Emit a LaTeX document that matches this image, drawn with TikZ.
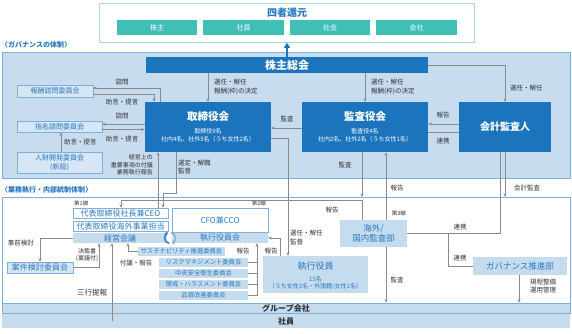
\documentclass[tikz,border=0pt]{standalone}
\usepackage{fontspec}
\setmainfont{Noto Sans CJK JP}
\usetikzlibrary{arrows.meta, positioning}

\definecolor{dkblue}{HTML}{1C75BC}
\definecolor{bgblue}{HTML}{C8DCEF}
\definecolor{bandblue}{HTML}{C5DCEF}
\definecolor{boxblue}{HTML}{D6E6F5}
\definecolor{lnblue}{HTML}{7FAEDA}
\definecolor{txblue}{HTML}{2B78BE}
\definecolor{tealc}{HTML}{3FBFB5}
\definecolor{tealln}{HTML}{A8DCD6}
\definecolor{lgray}{HTML}{8A8A8A}
\definecolor{txgray}{HTML}{333333}

\newcommand{\fsz}[1]{\fontsize{#1}{#1}\selectfont}

\begin{document}
\begin{tikzpicture}[x=1pt, y=-1pt,
    >={Stealth[length=3.5pt,width=3pt]},
    area/.style={draw=lnblue, line width=0.6pt, inner sep=0, anchor=north west},
    dkbox/.style={fill=dkblue, text=white, inner sep=0},
    wt/.style={text=white, inner sep=0, align=center},
    ltbox/.style={fill=boxblue, draw=lnblue, line width=0.5pt, text=txblue, inner sep=0, align=center},
    whbox/.style={fill=white, draw=lnblue, line width=0.5pt, text=txblue, inner sep=0},
    band/.style={fill=bandblue, text=txblue, inner sep=0, align=center},
    tealbox/.style={fill=tealc, text=white, inner sep=0, font=\fsz{7},
        minimum height=15pt},
    lbl/.style={text=txgray, inner sep=0, align=center,
        font=\fontsize{6.5}{8.5}\selectfont},
    arr/.style={draw=lgray, line width=0.6pt, ->},
    ln/.style={draw=lgray, line width=0.6pt}]

    \useasboundingbox (0,0) rectangle (572,334);

    % four stakeholders
    \node[draw=tealln, line width=0.8pt, fill=white, inner sep=0,
        minimum width=375pt, minimum height=39pt, anchor=north west] (yonsha) at (99,3) {};
    \node[text=txblue, font=\bfseries\fsz{10}, inner sep=0] (yonshaT) at (287,13) {四者還元};
    \node[tealbox, minimum width=80pt] (kabu) at (157,27.5) {株主};
    \node[tealbox, minimum width=81pt] (shaA) at (243.5,27.5) {社員};
    \node[tealbox, minimum width=80pt] (shakai) at (330,27.5) {社会};
    \node[tealbox, minimum width=81pt] (kaisha) at (416.5,27.5) {会社};

    % governance
    \node[area, fill=bgblue, minimum width=568pt, minimum height=126pt] (gov) at (2,52) {};
    \node[anchor=west, text=txblue, font=\bfseries\fsz{7}, inner sep=0] (govT) at (1,45) {〈ガバナンスの体制〉};

    \node[dkbox, minimum width=282pt, minimum height=16pt, font=\bfseries\fsz{11}] (sou) at (287,65) {株主総会};
    \draw[-{Triangle[length=5pt,width=6pt]}, dkblue, line width=1.6pt] (sou.north) -- (yonsha.south -| sou.north);

    \node[dkbox, minimum width=126pt, minimum height=50pt] (tori) at (208,127) {};
    \node[wt, font=\bfseries\fsz{10.5}] (toriA) at (208,117) {取締役会};
    \node[wt, font=\fontsize{6}{8}\selectfont] (toriB) at (208,135) {取締役9名\\社内4名、社外5名（うち女性2名）};

    \node[dkbox, minimum width=126pt, minimum height=50pt] (kansa) at (365,127) {};
    \node[wt, font=\bfseries\fsz{10.5}] (kansaA) at (365,117) {監査役会};
    \node[wt, font=\fontsize{6}{8}\selectfont] (kansaB) at (365,135) {監査役4名\\社内2名、社外2名（うち女性1名）};

    \node[dkbox, minimum width=92pt, minimum height=50pt, font=\bfseries\fsz{10}] (kaikei) at (505,127) {会計監査人};

    \node[ltbox, minimum width=76pt, minimum height=12pt, font=\fsz{7}] (hoshu) at (55,91) {報酬諮問委員会};
    \node[ltbox, minimum width=85pt, minimum height=11pt, font=\fsz{7}] (shimei) at (59.5,126.5) {指名諮問委員会};
    \node[ltbox, minimum width=85pt, minimum height=21pt, font=\fontsize{7}{8.5}\selectfont] (jinzai) at (59.5,162.5) {人財開発委員会\\(新設)};

    \draw[arr] (sou.south -| tori.north) -- (tori.north);
    \node[lbl, anchor=west, align=left] (l1) at (214,87) {選任・解任\\報酬(枠)の決定};
    \draw[arr] (sou.south -| kansa.north) -- (kansa.north);
    \node[lbl, anchor=west, align=left] (l2) at (371,87) {選任・解任\\報酬(枠)の決定};
    \draw[arr] (sou.east) -| (kaikei.north);
    \node[lbl, anchor=west] (l3) at (510,88) {選任・解任};

    \draw[arr] (tori.north -| 160,0) |- (hoshu.east |- 0,88);
    \node[lbl] (l4) at (122,82) {諮問};
    \draw[arr] (hoshu.east |- 0,94) -| (tori.north -| 154,0);
    \node[lbl] (l5) at (122,102) {助言・提言};
    \draw[arr] (tori.west |- 0,124) -- (shimei.east |- 0,124);
    \node[lbl] (l6) at (122,116) {諮問};
    \draw[arr] (shimei.east |- 0,129.5) -- (tori.west |- 0,129.5);
    \node[lbl] (l7) at (122,139) {助言・提言};
    \draw[arr] (jinzai.north -| 61,0) -- (shimei.south -| 61,0);
    \node[lbl, anchor=west] (l8) at (64,142) {助言・提言};

    \draw[arr] (kansa.west |- 0,128) -- (tori.east |- 0,128);
    \node[lbl] (l9) at (287,119) {監査};
    \draw[arr] (kaikei.west |- 0,124) -- (kansa.east |- 0,124);
    \node[lbl] (l10) at (443,115) {報告};
    \draw[ln] (kaikei.west |- 0,132) -- (kansa.east |- 0,132);
    \node[lbl] (l11) at (443,141) {連携};

    % execution and internal control
    \node[anchor=west, text=txblue, font=\bfseries\fsz{7}, inner sep=0] (execT) at (1,190) {〈業務執行・内部統制体制〉};
    \node[area, fill=white, minimum width=568pt, minimum height=116pt] (exec) at (2,197) {};
    \node[band, draw=lnblue, line width=0.5pt, minimum width=568pt, minimum height=10pt,
        text=txgray, font=\bfseries\fsz{8}] (group) at (286,308) {グループ会社};
    \node[band, minimum width=568pt, minimum height=14pt, text=txgray, font=\bfseries\fsz{8}] (shain) at (286,321) {社員};

    \node[lbl, font=\fsz{5.5}, anchor=west] (sen1) at (74,203) {第1線};
    \node[whbox, minimum width=95pt, minimum height=10pt, font=\fsz{8}] (ceo) at (120.5,213) {代表取締役社長兼CEO};
    \node[whbox, minimum width=95pt, minimum height=10pt, font=\fsz{8}] (kaigaiD) at (120.5,226) {代表取締役海外事業担当};
    \node[band, minimum width=94pt, minimum height=10pt, font=\fsz{8}] (keiei) at (120,238) {経営会議};

    \node[lbl, font=\fsz{5.5}, anchor=east] (sen2) at (266,203) {第2線};
    \node[whbox, minimum width=96pt, minimum height=24pt, font=\fsz{8}] (cfo) at (220,220) {CFO兼CCO};
    \node[band, minimum width=96pt, minimum height=10pt, font=\fsz{8}] (shikkoukai) at (220,238) {執行役員会};

    \coordinate (cyc) at (170,238);
    \draw[txblue, line width=1.4pt, -{Stealth[length=2.5pt,width=3.5pt]}] (cyc) ++(100:5.5) arc[start angle=100, end angle=250, radius=5.5];
    \draw[lnblue, line width=1.4pt, -{Stealth[length=2.5pt,width=3.5pt]}] (cyc) ++(280:5.5) arc[start angle=280, end angle=430, radius=5.5];

    \node[band, minimum width=87pt, minimum height=9pt, font=\fsz{6.3}] (sus) at (181.5,251.5) {サステナビリティ推進委員会};
    \node[band, minimum width=89pt, minimum height=9pt, font=\fsz{6.3}] (risk) at (203.5,262.5) {リスクマネジメント委員会};
    \node[band, minimum width=89pt, minimum height=9pt, font=\fsz{6.3}] (chuo) at (203.5,273.5) {中央安全衛生委員会};
    \node[band, minimum width=89pt, minimum height=9pt, font=\fsz{6.3}] (chokai) at (203.5,284.5) {懲戒・ハラスメント委員会};
    \node[band, minimum width=89pt, minimum height=9pt, font=\fsz{6.3}] (hinshitsu) at (203.5,295.5) {品質改善委員会};

    \draw[ln] (risk.east) -- (risk.east -| 257,0);
    \draw[ln] (chuo.east) -- (chuo.east -| 257,0);
    \draw[ln] (chokai.east) -- (chokai.east -| 257,0);
    \draw[arr] (hinshitsu.east) -| (shikkoukai.south -| 257,0);
    \node[lbl] (l12) at (243,251) {報告};

    \node[band, minimum width=105pt, minimum height=37pt] (yakuin) at (315.5,274.5) {};
    \node[text=txblue, inner sep=0, font=\fsz{9}] (yakuinA) at (315.5,266) {執行役員};
    \node[text=txblue, inner sep=0, align=center, font=\fontsize{6}{7.5}\selectfont] (yakuinB) at (315.5,283) {15名\\（うち女性3名・外国籍/女性1名）};

    \draw[arr] (yakuin.north -| 280,0) |- (shikkoukai.east);
    \node[lbl] (l13) at (271,251) {報告};
    \draw[arr] (tori.east |- 0,138) -| (yakuin.north -| 288,0);
    \node[lbl, anchor=west, align=left] (l14) at (290,237.5) {選任・解任\\監督};

    \draw[arr] (tori.south -| 176,0) |- (163,193) -- (ceo.north -| 163,0);
    \node[lbl, anchor=west, align=left] (l15) at (178,167) {選定・解職\\監督};
    \draw[arr] (ceo.north -| 158,0) -- (tori.south -| 158,0);
    \node[lbl, anchor=east, align=right, font=\fontsize{6}{7.3}\selectfont] (l16) at (153,165) {経営上の\\重要事項の付議\\業務執行報告};

    \node[band, minimum width=67pt, minimum height=27pt, font=\fontsize{8.5}{10.5}\selectfont] (kaigai) at (373.5,233.5) {海外/\\国内監査部};
    \node[lbl, font=\fsz{5.5}, anchor=east] (sen3) at (406,213) {第3線};

    \draw[arr] (kaigai.north -| 362,0) -- (362,200) -| (ceo.north -| 121,0);
    \node[lbl] (l17) at (332,210) {報告};
    \draw[arr] (kansa.south -| 362,0) -- (exec.north -| 362,0);
    \node[lbl] (l18) at (345,165) {監査};
    \draw[arr] (kaigai.north -| 386,0) -- (kansa.south -| 386,0);
    \node[lbl] (l19) at (397,188) {報告};
    \draw[arr] (kaigai.south -| 386,0) -- (group.north -| 386,0);
    \node[lbl] (l20) at (397,280) {監査};
    \draw[arr] (kaikei.south -| 505,0) -- (exec.north -| 505,0);
    \node[lbl] (l21) at (527,188) {会計監査};

    \node[band, minimum width=94pt, minimum height=18pt, font=\fsz{8.5}] (suishin) at (520,266) {ガバナンス推進部};
    \coordinate (rk) at (448,233);
    \draw[ln] (kaikei.south -| 500,0) |- (kaigai.east |- rk);
    \node[lbl] (l22) at (460,227) {連携};
    \draw[ln] (rk) |- (suishin.west);
    \node[lbl] (l23) at (460,258) {連携};
    \draw[arr] (suishin.south -| 519,0) -- (group.north -| 519,0);
    \node[lbl, anchor=west, align=left] (l24) at (530,286) {規程整備\\運用管理};

    \node[ltbox, minimum width=66pt, minimum height=11pt, font=\fsz{8}] (anken) at (40,267.5) {案件検討委員会};
    \draw[arr] (keiei.west) -| (anken.north);
    \node[lbl] (l25) at (21,243) {事前検討};
    \draw[arr] (anken.east) -| (keiei.south -| 99,0);
    \node[lbl, font=\fontsize{6}{7.5}\selectfont] (l26) at (87,255) {決裁書\\(稟議付)};
    \draw[arr] (shain.center -| 112,0) -- (keiei.south -| 112,0);
    \node[lbl, font=\fsz{7.5}] (l27) at (92,293) {三行提報};
    \draw[arr] (sus.west) -| (keiei.south -| 128,0);
    \node[lbl] (l28) at (136,263) {付議・報告};

\end{tikzpicture}
\end{document}
